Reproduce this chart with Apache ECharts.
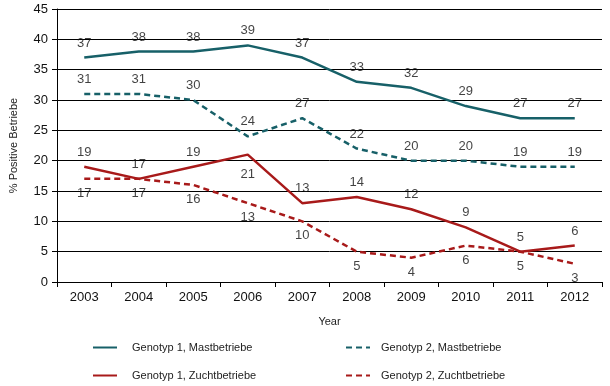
<!DOCTYPE html>
<html><head><meta charset="utf-8">
<script src="https://cdn.jsdelivr.net/npm/echarts@6/dist/echarts.min.js"></script>
<style>html,body{margin:0;padding:0;background:#fff}#c{width:610px;height:386px}</style>
</head><body><div id="c"></div>
<script>
const years = ['2003','2004','2005','2006','2007','2008','2009','2010','2011','2012'];
const g1Mast = [37,38,38,39,37,33,32,29,27,27];
const g2Mast = [31,31,30,24,27,22,20,20,19,19];
const g1Zucht = [19,17,19,21,13,14,12,9,5,6];
const g2Zucht = [17,17,16,13,10,5,4,6,5,3];
const names = ['Genotyp 1, Mastbetriebe','Genotyp 2, Mastbetriebe','Genotyp 1, Zuchtbetriebe','Genotyp 2, Zuchtbetriebe'];
// label placement per point
const g1ZuchtLabelPos = ['top','top','top','bottom','top','top','top','top','top','top'];

const teal = '#176068', red = '#a81a1a';
const font = 'Liberation Sans, Arial, sans-serif';
const lbl = (pos) => ({show:true, position:pos, distance: 8, color:'#111', fontSize:13, fontFamily:font});

function line(name, vals, color, dashed){
  return {
    name, type:'line', data: vals, symbol:'none', animation:false,
    lineStyle:{color, width:2.5, type: dashed ? [6,4] : 'solid'},
    itemStyle:{color}, z: 3
  };
}
function labels(name, vals, posArr, defPos){
  return {
    name: name + ' (labels)', type:'scatter', symbolSize:0, animation:false, silent:true,
    data: vals.map((v,i)=>{
      const l = lbl(posArr ? posArr[i] : defPos);
      if (posArr && posArr[i] !== defPos) l.distance = 13;
      return {value:v, label:l};
    }),
    z: 4
  };
}

const legendCommon = {orient:'vertical', top:342, padding:0, itemWidth:24, itemHeight:10, itemGap:17,
  itemStyle:{opacity:0}};

const chart = echarts.init(document.getElementById('c'));
chart.setOption({
  animation:false,
  textStyle:{fontFamily:font},
  grid:{left:57, right:8, top:9, bottom:104},
  xAxis:{type:'category', data:years, boundaryGap:true,
    name:'Year', nameLocation:'middle', nameGap:34, nameTextStyle:{fontSize:11, color:'#222'},
    axisLine:{lineStyle:{color:'#000', width:1}},
    axisTick:{show:true, length:5, lineStyle:{color:'#000'}},
    axisLabel:{fontSize:13, color:'#111', margin:9}},
  yAxis:{type:'value', min:0, max:45, interval:5,
    name:'% Positive Betriebe', nameLocation:'middle', nameGap:38, nameRotate:90, nameTextStyle:{fontSize:11, color:'#222'},
    axisLine:{show:true, lineStyle:{color:'#000', width:1}},
    axisTick:{show:true, length:5, inside:false, lineStyle:{color:'#000'}},
    splitLine:{lineStyle:{color:'#000', width:1}},
    axisLabel:{fontSize:13, color:'#111', margin:9}},
  legend:[
    Object.assign({data:[names[0], names[2]], left:92, textStyle:{fontSize:11, color:'#222', padding:[0,0,0,10]}}, legendCommon),
    Object.assign({data:[names[1], names[3]], left:345, textStyle:{fontSize:11, color:'#222', padding:[0,0,0,6]}}, legendCommon)
  ],
  series:[
    line(names[0], g1Mast, teal, false),
    line(names[1], g2Mast, teal, true),
    line(names[2], g1Zucht, red, false),
    line(names[3], g2Zucht, red, true),
    labels(names[0], g1Mast, null, 'top'),
    labels(names[1], g2Mast, null, 'top'),
    labels(names[2], g1Zucht, g1ZuchtLabelPos, 'top'),
    labels(names[3], g2Zucht, null, 'bottom')
  ]
});
</script></body></html>
